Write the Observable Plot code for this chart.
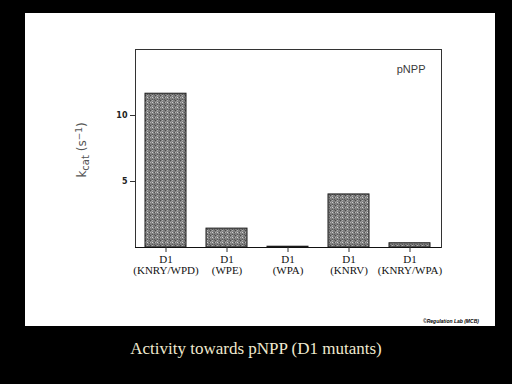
<!DOCTYPE html>
<html><head><meta charset="utf-8">
<script src="https://cdn.jsdelivr.net/npm/d3@7"></script>
<script src="https://cdn.jsdelivr.net/npm/@observablehq/plot@0.6"></script>
<style>
body{margin:0;background:#000;width:512px;height:384px;overflow:hidden;position:relative}
#panel{position:absolute;left:25px;top:13px;width:470px;height:313px;background:#fff}
#chart{position:absolute;left:0;top:0}
#caption{position:absolute;left:0;width:512px;top:339px;text-align:center;font-family:"Liberation Serif","DejaVu Serif",serif;font-size:17px;color:#efe9cf}
#credit{position:absolute;left:423px;top:318px;font:italic bold 5px "Liberation Sans",sans-serif;color:#000;white-space:nowrap}
</style></head>
<body>
<div id="panel"></div>
<div id="chart"></div>
<div id="caption">Activity towards pNPP (D1 mutants)</div>
<div id="credit">©Regulation Lab (MCB)</div>
<script>
const prefix = ["D1","D1","D1","D1","D1"];
const mutants = ["KNRY/WPD","WPE","WPA","KNRV","KNRY/WPA"];
const kcat = [11.65, 1.43, 0.06, 4.02, 0.32];
const yTicks = [5, 10];
const substrate = "pNPP";

const data = mutants.map((m, i) => ({name: prefix[i] + "\n(" + m + ")", kcat: kcat[i]}));

const plot = Plot.plot({
  width: 512,
  height: 330,
  marginLeft: 135,
  marginRight: 71,
  marginTop: 49,
  marginBottom: 83,
  style: {background: "transparent", overflow: "visible"},
  x: {domain: data.map(d => d.name), paddingInner: 0.32, paddingOuter: 0.16},
  y: {domain: [0, 15]},
  marks: [
    Plot.barY(data, {x: "name", y: "kcat", fill: "url(#dots)", stroke: "#1a1a1a", strokeWidth: 1}),
    Plot.frame({stroke: "#333"}),
    Plot.ruleY([0], {stroke: "#111"}),
    Plot.axisY({ticks: yTicks, tickSize: 5, tickPadding: 3, label: null, fontSize: 8, fontFamily: "DejaVu Sans", fontWeight: "bold", stroke: "#333", fill: "#222"}),
    Plot.axisX({tickSize: 5, tickPadding: 3, label: null, fontSize: 11, fontFamily: "Liberation Serif", fill: "#111", stroke: "#333"}),
    Plot.text([substrate], {frameAnchor: "top-right", dx: -16, dy: 16, fontSize: 11, fontFamily: "Liberation Sans", fill: "#3a3a3a"})
  ]
});

const svg = d3.select(plot);
const defs = svg.insert("defs", ":first-child");
const pat = defs.append("pattern").attr("id", "dots").attr("patternUnits", "userSpaceOnUse")
  .attr("width", 5).attr("height", 5);
pat.append("rect").attr("width", 5).attr("height", 5).attr("fill", "#7e7e7e");
[[0,0,"#4a4a4a"],[2,0,"#b0b0b0"],[0,2,"#b0b0b0"],[2,2,"#d0d0d0"],[4,2,"#555"],[2,4,"#555"],[1,1,"#969696"],[3,3,"#969696"],[4,4,"#5a5a5a"]]
  .forEach(([x, y, c]) => pat.append("rect").attr("x", x).attr("y", y).attr("width", 1).attr("height", 1).attr("fill", c));

const lab = svg.append("text")
  .attr("transform", "translate(86,150) rotate(-90)")
  .attr("text-anchor", "middle")
  .attr("font-family", "DejaVu Sans, sans-serif")
  .attr("font-size", 12)
  .attr("fill", "#555");
lab.append("tspan").text("k");
lab.append("tspan").attr("dy", 3).attr("font-size", 10).text("cat");
lab.append("tspan").attr("dy", -3).text(" (s");
lab.append("tspan").attr("dy", -4).attr("font-size", 9).text("−1");
lab.append("tspan").attr("dy", 4).text(")");

document.getElementById("chart").appendChild(plot);
</script>
</body></html>
